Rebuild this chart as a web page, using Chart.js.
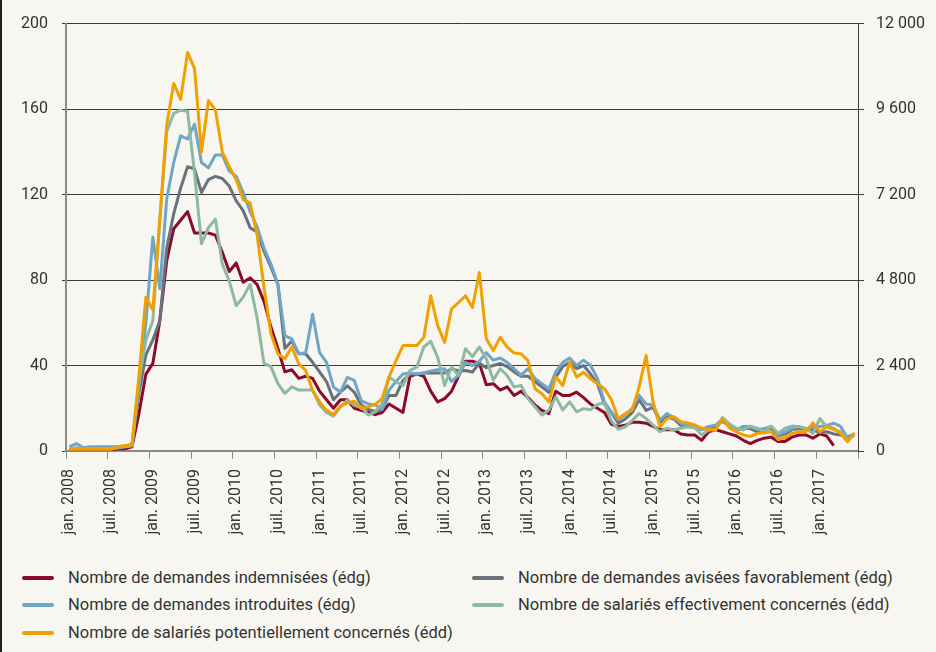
<!DOCTYPE html>
<html>
<head>
<meta charset="utf-8">
<script src="https://cdn.jsdelivr.net/npm/chart.js@4.4.1/dist/chart.umd.min.js"></script>
<style>
  body { margin: 0; background: #f7f6f1; }
  #wrap { position: relative; width: 934px; height: 652px; border-left: 2px solid #222; background: #f7f6f1; }
  #chart { position: absolute; left: -2px; top: 0; }
  #legend { position: absolute; left: 0; top: 560px; width: 934px; font-family: Roboto, sans-serif; font-size: 16.5px; color: #333; }
  .item { position: absolute; height: 20px; line-height: 20px; white-space: nowrap; }
  .item span.mark { position: absolute; left: 0; top: 8px; width: 32px; height: 4px; border-radius: 2px; }
  .item span.txt { position: absolute; left: 46px; top: 0; }
</style>
</head>
<body>
<div id="wrap">
  <canvas id="chart" width="936" height="555"></canvas>
  <div id="legend"></div>
</div>
<script>
// months jan. 2008 -> juin 2017
const monthNames = ['jan.', 'févr.', 'mars', 'avr.', 'mai', 'juin', 'juil.', 'août', 'sept.', 'oct.', 'nov.', 'déc.'];
const firstYear = 2008;
const nMonths = 114;

const indemnisees = [0, 0, 0, 0, 0, 0.5, 0.5, 1, 1, 2,
  17.5, 36, 41, 61, 89, 104, 108, 112, 102, 102,
  102, 101, 93, 84, 88, 79, 81, 78, 70, 58,
  48, 37, 38, 34, 35, 34, 28, 24, 20, 24,
  24, 20, 19, 18, 17, 18, 22, 20, 18, 35,
  36, 35, 28, 23, 24.5, 28, 35, 42, 42, 41,
  31, 31.5, 28.5, 30, 26, 28, 25, 21.5, 19, 17.5,
  28, 26, 26, 27.5, 25, 22, 20, 18, 12.5, 11.5,
  12, 13.5, 13.5, 13, 11.5, 10, 10, 10, 8, 7.5,
  7.5, 5, 9, 10, 9, 8, 7, 5, 3.5, 5,
  6, 6.5, 4.5, 4.5, 6.5, 7.5, 7.5, 6, 8, 7,
  2.5, null, null, null];

const avisees = [1, 1, 1, 1, 1, 1, 1, 1.5, 2, 2.5,
  27, 45, 52, 61, 95, 111, 123, 133, 132, 121,
  127, 128.5, 127.5, 124, 117, 112.5, 104.5, 102.5, 93.5, 86,
  78, 48, 51.5, 45.5, 45.5, 41.5, 37, 32.5, 24, 27.5,
  30.5, 27.5, 21.5, 19.5, 18.5, 19.5, 26, 26, 33, 36,
  36, 36.5, 36.5, 36.5, 36.5, 38.5, 37.5, 37.7, 37, 41,
  39, 40, 41, 39.5, 37, 35, 35, 32.5, 30, 27.5,
  34.5, 39.5, 41.5, 38.5, 40, 36, 31.5, 22, 18, 13,
  15, 18, 24, 19, 20.5, 13.5, 16, 15, 12, 11.5,
  11, 10, 11, 11.5, 14, 11.5, 10, 10.5, 10.5, 9,
  10, 10.5, 7, 8, 10, 10.5, 10, 10, 8.5, 9,
  8, 7.5, 6.5, 8];

const introduites = [2, 3.5, 1.5, 2, 2, 2, 2, 2, 2.5, 3,
  30, 60, 100, 76, 118, 135, 147.5, 146, 153, 135,
  132.5, 138.5, 138.5, 131, 128.5, 121, 112, 105, 95, 87.5,
  78, 54, 52.5, 45.5, 46, 64, 46, 41.5, 30, 27.5,
  34.5, 33, 23.5, 22, 21.5, 19.5, 28.5, 32.5, 36, 36.5,
  36, 36.5, 37.5, 38, 38.5, 32.5, 35.5, 41.5, 40, 42,
  46, 42.5, 43.5, 41.5, 38.5, 35.5, 38.5, 34, 31.5, 29,
  37, 41.5, 43.5, 40, 42.5, 40, 34, 23, 18.3, 14.5,
  17, 20, 26, 22, 21.5, 14.5, 17.5, 15.5, 13, 12,
  11.5, 10, 11.5, 12, 15, 12, 10, 11.5, 11.5, 10,
  10.5, 11.5, 7.5, 9, 10.5, 11.5, 10, 11.5, 11.5, 12,
  13, 11.5, 6, 8];

// right axis (édd)
const salariesEffectifs = [60, 90, 60, 60, 60, 60, 60, 90, 120, 150,
  1980, 3120, 3660, 6480, 8970, 9480, 9570, 9540, 7800, 5820,
  6270, 6510, 5250, 4770, 4080, 4320, 4680, 3750, 2460, 2370,
  1890, 1620, 1800, 1710, 1710, 1710, 1290, 1080, 980, 1230,
  1430, 1280, 1240, 1010, 1100, 1330, 2080, 1940, 1840, 2260,
  2360, 2920, 3080, 2630, 1840, 2360, 2120, 2870, 2650, 2920,
  2590, 1990, 2310, 2120, 1800, 1840, 1470, 1240, 1010, 1150,
  1520, 1150, 1380, 1100, 1190, 1160, 1310, 1350, 840, 610,
  680, 860, 1050, 910, 730, 540, 640, 590, 640, 680,
  660, 450, 590, 590, 940, 760, 640, 590, 700, 640,
  540, 700, 490, 640, 700, 680, 640, 490, 910, 680,
  600, 540, 310, 450];

const salariesPotentiels = [50, 50, 50, 50, 50, 50, 50, 120, 150, 170,
  2100, 4320, 3960, 6480, 9150, 10320, 9870, 11190, 10740, 8400,
  9840, 9580, 8400, 7980, 7620, 7060, 6960, 6080, 4590, 3290,
  2730, 2590, 2920, 2450, 2260, 1700, 1380, 1140, 1030, 1260,
  1350, 1400, 1190, 1240, 1310, 1470, 2080, 2540, 2960, 2960,
  2960, 3190, 4360, 3520, 3050, 3990, 4170, 4360, 4030, 5010,
  3150, 2820, 3190, 2920, 2750, 2730, 2540, 1750, 1610, 1380,
  2080, 1840, 2500, 2080, 2210, 2030, 1890, 1750, 1440, 910,
  1050, 1150, 1800, 2680, 1380, 680, 910, 960, 820, 790,
  730, 640, 610, 590, 910, 640, 540, 450, 410, 490,
  510, 540, 320, 380, 490, 540, 540, 790, 540, 680,
  640, 490, 260, 510];

const leftTicks = [0, 40, 80, 120, 160, 200];
const rightTicks = [0, 2400, 4800, 7200, 9600, 12000];

const labels = [];
for (let i = 0; i < nMonths; i++) {
  labels.push(monthNames[i % 12] + ' ' + (firstYear + Math.floor(i / 12)));
}

const series = [
  { label: 'Nombre de demandes indemnisées (édg)', data: indemnisees, color: '#8a0a2c', axis: 'y', order: 5 },
  { label: 'Nombre de demandes avisées favorablement (édg)', data: avisees, color: '#67727b', axis: 'y', order: 4 },
  { label: 'Nombre de demandes introduites (édg)', data: introduites, color: '#6fa5c6', axis: 'y', order: 3 },
  { label: 'Nombre de salariés effectivement concernés (édd)', data: salariesEffectifs, color: '#8db9a2', axis: 'y2', order: 2 },
  { label: 'Nombre de salariés potentiellement concernés (édd)', data: salariesPotentiels, color: '#f0a000', axis: 'y2', order: 1 }
];

const font = { family: 'Roboto, sans-serif', size: 16 };
const fmt = v => String(v).replace(/\B(?=(\d{3})+(?!\d))/g, ' ');

new Chart(document.getElementById('chart'), {
  type: 'line',
  data: {
    labels: labels,
    datasets: series.map(s => ({
      label: s.label,
      data: s.data,
      yAxisID: s.axis,
      order: s.order,
      borderColor: s.color,
      backgroundColor: s.color,
      borderWidth: 3,
      pointRadius: 0,
      tension: 0,
      fill: false,
      borderJoinStyle: 'round'
    }))
  },
  options: {
    responsive: false,
    animation: false,
    layout: { padding: { top: 22, left: 0, right: 0, bottom: 0 } },
    plugins: { legend: { display: false }, tooltip: { enabled: false } },
    scales: {
      x: {
        type: 'category',
        offset: true,
        grid: {
          offset: true,
          drawOnChartArea: false,
          tickLength: 8,
          color: ctx => (ctx.index === undefined || ctx.index % 6 === 0) ? '#8a8a8a' : 'rgba(0,0,0,0)',
          lineWidth: 1
        },
        border: { color: '#8a8a8a', width: 2 },
        ticks: {
          autoSkip: false,
          maxRotation: 90,
          minRotation: 90,
          padding: 10,
          color: '#333',
          font: font,
          callback: (v, i) => (i % 6 === 0 && i <= 108) ? labels[i] : ''
        },
        afterFit: s => { s.height = 104; }
      },
      y: {
        position: 'left',
        min: 0,
        max: 200,
        afterBuildTicks: s => { s.ticks = leftTicks.map(v => ({ value: v })); },
        grid: { color: '#3a3a3a', lineWidth: 1, tickLength: 4 },
        border: { color: '#8a8a8a', width: 2 },
        ticks: { padding: 14, color: '#333', font: font },
        afterFit: s => { s.width = 66; }
      },
      y2: {
        position: 'right',
        min: 0,
        max: 12000,
        afterBuildTicks: s => { s.ticks = rightTicks.map(v => ({ value: v })); },
        grid: { drawOnChartArea: false, color: '#3a3a3a', tickLength: 6 },
        border: { color: '#3a3a3a', width: 1 },
        ticks: { padding: 12, color: '#333', font: font, callback: v => fmt(v) },
        afterFit: s => { s.width = 78; }
      }
    }
  }
});

// legend, two columns
const legendPos = [[20, 8], [470, 8], [20, 35], [470, 35], [20, 63]];
const legendOrder = [0, 1, 2, 3, 4];
const leg = document.getElementById('legend');
legendOrder.forEach((k, n) => {
  const s = series[k];
  const d = document.createElement('div');
  d.className = 'item';
  d.style.left = legendPos[n][0] + 'px';
  d.style.top = legendPos[n][1] + 'px';
  d.innerHTML = '<span class="mark" style="background:' + s.color + '"></span><span class="txt">' + s.label + '</span>';
  leg.appendChild(d);
});
</script>
</body>
</html>
